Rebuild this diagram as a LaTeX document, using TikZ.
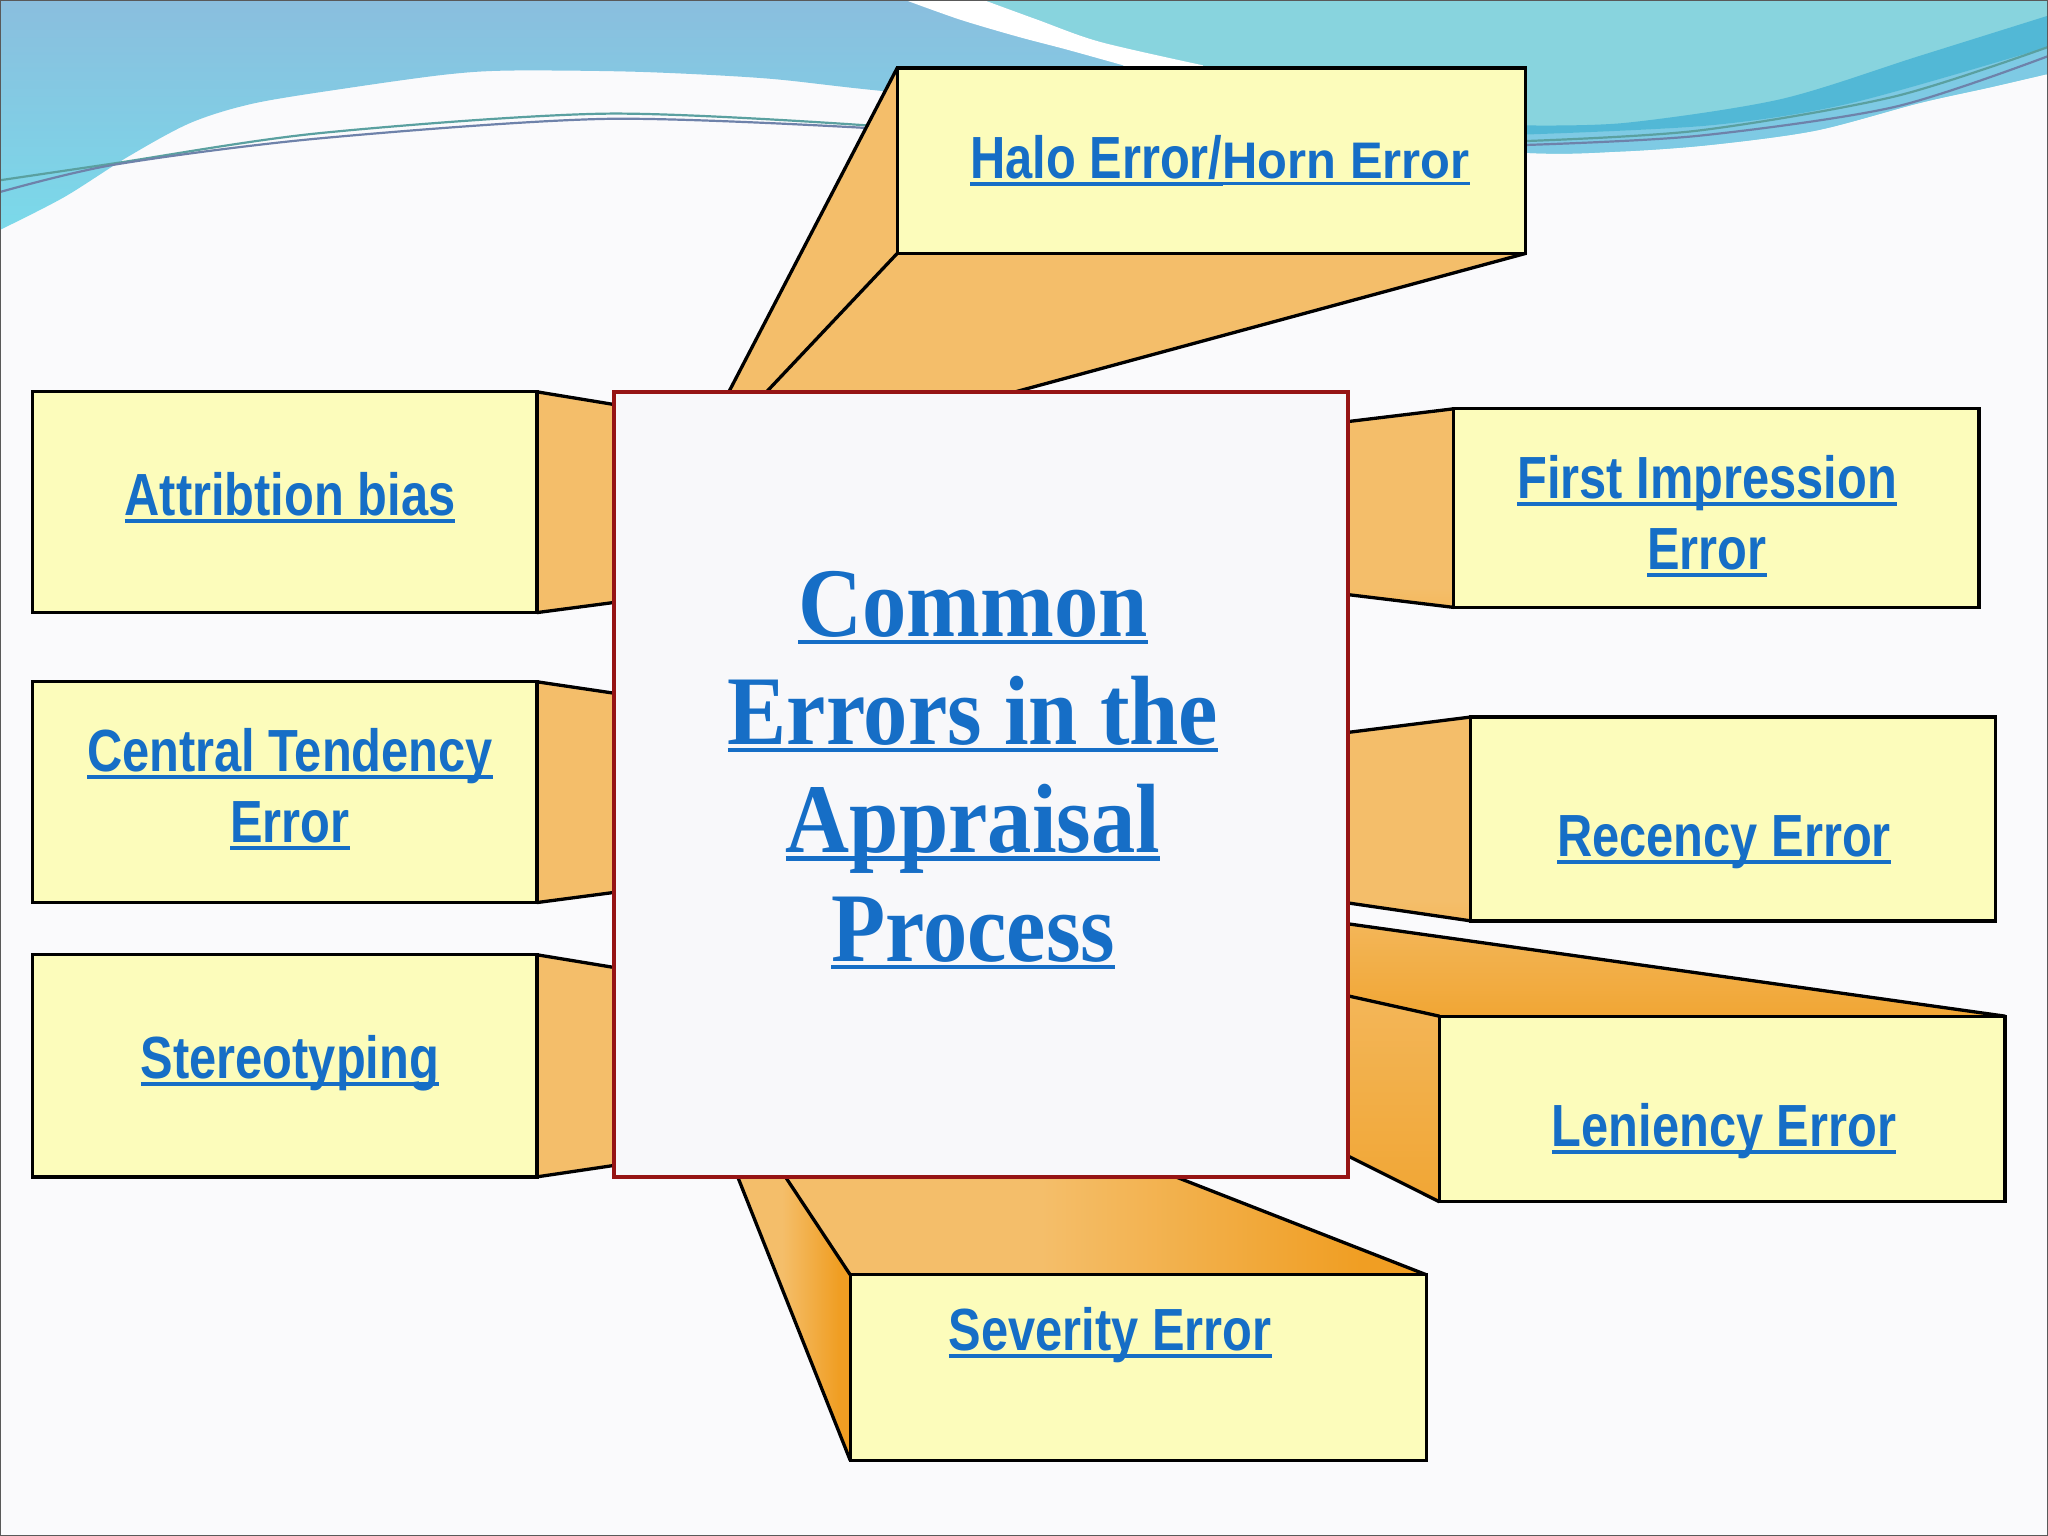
\documentclass[tikz,border=0pt]{standalone}
\usepackage{fontspec}
\setmainfont{Liberation Sans}
\newfontfamily\sidefont[FakeStretch=0.82]{Liberation Sans}
\newfontfamily\hornfont[FakeStretch=0.95]{Liberation Sans}
\newfontfamily\ctrfont[FakeStretch=0.9]{Liberation Serif}
\definecolor{boxfill}{RGB}{252,252,187}
\definecolor{prismc}{RGB}{244,190,106}
\definecolor{prismdark}{RGB}{240,158,35}
\definecolor{txtblue}{RGB}{22,110,198}
\definecolor{ctrfill}{RGB}{248,248,250}
\definecolor{ctrborder}{RGB}{150,20,20}
\definecolor{bgc}{RGB}{250,250,252}
\definecolor{skyb}{RGB}{138,190,222}
\definecolor{cyanb}{RGB}{122,218,234}
\definecolor{turq}{RGB}{136,212,222}
\definecolor{midb}{RGB}{126,202,228}
\definecolor{deepb}{RGB}{82,184,214}
\definecolor{lineA}{RGB}{90,160,160}
\definecolor{lineB}{RGB}{110,130,170}
\pgfdeclarelayer{bglayer}
\pgfdeclarelayer{prismlayer}
\pgfsetlayers{bglayer,prismlayer,main}
\pgfdeclareverticalshading{prismv}{100bp}{color(0bp)=(prismdark); color(30bp)=(prismc); color(100bp)=(prismc)}
\pgfdeclareverticalshading{prismvv}{100bp}{color(0bp)=(prismdark); color(100bp)=(prismc)}
\pgfdeclarehorizontalshading{prismh}{100bp}{color(0bp)=(prismc); color(45bp)=(prismc); color(70bp)=(prismdark); color(100bp)=(prismdark)}
\newcommand\ulns[1]{\setbox0=\hbox{#1}\rlap{\rule[-0.12em]{\wd0}{0.065em}}\box0}
\newcommand\ulnc[1]{\setbox0=\hbox{#1}\rlap{\rule[-0.08em]{\wd0}{0.045em}}\box0}
\tikzset{
  errbox/.style={draw=black, line width=0.9pt, fill=boxfill, inner sep=0pt, outer sep=0pt},
  edge/.style={draw=black, line width=0.9pt, line cap=round},
  sidelbl/.style={text=txtblue, font=\sidefont\bfseries\fontsize{16.2}{19.5}\selectfont, anchor=base, inner sep=0pt},
  ctrlbl/.style={text=txtblue, font=\ctrfont\bfseries\fontsize{26.8}{29.8}\selectfont, anchor=base, inner sep=0pt},
  wave/.style={line width=0.6pt}
}
\begin{document}
\begin{tikzpicture}[x=0.0125cm, y=-0.0125cm]
\useasboundingbox (0,0) rectangle (1568,1176);
% ---------------- background
\begin{pgfonlayer}{bglayer}
\fill[bgc] (0,0) rectangle (1568,1176);
\begin{scope}
\clip plot[smooth] coordinates {(1566,57) (1523,67) (1469,79) (1390,100) (1309,111) (1240,116) (1168,117) (1000,105) (860,88) (669,69) (586,60) (489,55) (391,54) (342,57) (269,67) (195,79) (146,94) (98,120) (49,151) (0,176)} -- (0,176) -- (0,0) -- (1568,0) -- (1568,57) -- cycle;
\shade[top color=skyb, bottom color=cyanb] (0,0) rectangle (1000,180);
\fill[turq] plot[smooth] coordinates {(753,0) (794,15) (842,32) (921,50)} -- (940,200) -- (1568,200) -- (1568,0) -- cycle;
\fill[midb] plot[smooth] coordinates {(1168,103) (1309,96) (1417,79) (1568,36)} -- (1568,200) -- (1168,200) -- cycle;
\fill[deepb] plot[smooth] coordinates {(1168,96) (1245,94) (1363,76) (1469,43) (1568,12)} -- (1568,36) -- plot[smooth] coordinates {(1568,36) (1417,79) (1309,96) (1168,103)} -- cycle;
\fill[white] plot[smooth] coordinates {(693,0) (735,15) (779,28) (817,38) (860,50)} -- (860,60) -- (921,60) -- plot[smooth] coordinates {(921,50) (842,32) (794,15) (753,0)} -- cycle;
\end{scope}
\draw[wave, lineA] plot[smooth] coordinates {(0,138) (88,125) (244,102) (464,87) (664,96)};
\draw[wave, lineB] plot[smooth] coordinates {(0,147) (88,126) (244,106) (464,91) (664,98)};
\draw[wave, lineA] plot[smooth] coordinates {(1168,108) (1300,100) (1450,74) (1568,36)};
\draw[wave, lineB] plot[smooth] coordinates {(1168,111) (1300,104) (1450,82) (1568,43)};
\end{pgfonlayer}
% ---------------- boxes
\node[errbox, minimum width=4.825cm, minimum height=2.1125cm] (attr) at (218,384.5) {};
\node[errbox, minimum width=4.825cm, minimum height=2.1125cm] (cent) at (218,606.5) {};
\node[errbox, minimum width=4.825cm, minimum height=2.125cm] (stereo) at (218,816) {};
\node[errbox, minimum width=6.0125cm, minimum height=1.775cm] (halo) at (927.5,123) {};
\node[errbox, minimum width=5.025cm, minimum height=1.9cm] (first) at (1314,389) {};
\node[errbox, minimum width=5.025cm, minimum height=1.95cm] (rec) at (1327,627) {};
\node[errbox, minimum width=5.4125cm, minimum height=1.775cm] (len) at (1318.5,849) {};
\node[errbox, minimum width=5.5125cm, minimum height=1.775cm] (sev) at (871.5,1047) {};
% ---------------- prisms
\begin{pgfonlayer}{prismlayer}
% halo
\fill[prismc] (halo.north west) -- (halo.south west) -- (585,302) -- (557,302) -- cycle;
\fill[prismc] (halo.south west) -- (halo.south east) -- (770,302) -- (585,302) -- cycle;
\draw[edge] (halo.north west) -- (557,302);
\draw[edge] (halo.south west) -- (585,302);
\draw[edge] (halo.south east) -- (770,302);
% left prisms
\fill[prismc] (attr.north east) -- (472,310) -- (472,461) -- (attr.south east) -- cycle;
\draw[edge] (attr.north east) -- (472,310);
\draw[edge] (attr.south east) -- (472,461);
\fill[prismc] (cent.north east) -- (472,531) -- (472,683) -- (cent.south east) -- cycle;
\draw[edge] (cent.north east) -- (472,531);
\draw[edge] (cent.south east) -- (472,683);
\fill[prismc] (stereo.north east) -- (472,741) -- (472,892) -- (stereo.south east) -- cycle;
\draw[edge] (stereo.north east) -- (472,741);
\draw[edge] (stereo.south east) -- (472,892);
% right prisms
\shade[shading=prismv] (1030,323) -- (first.north west) -- (first.south west) -- (1030,455) -- cycle;
\draw[edge] (1030,323) -- (first.north west);
\draw[edge] (1030,455) -- (first.south west);
\shade[shading=prismv] (1030,561) -- (rec.north west) -- (rec.south west) -- (1030,691) -- cycle;
\draw[edge] (1030,561) -- (rec.north west);
\draw[edge] (1030,691) -- (rec.south west);
% leniency
\shade[shading=prismvv] (1030,707) -- (len.north east) -- (len.north west) -- (1030,762) -- cycle;
\shade[shading=prismvv] (1030,762) -- (len.north west) -- (len.south west) -- (1030,884) -- cycle;
\draw[edge] (1030,707) -- (len.north east);
\draw[edge] (1030,762) -- (len.north west);
\draw[edge] (1030,884) -- (len.south west);
% severity
\shade[shading=prismh] (564,899) -- (600,899) -- (sev.north west) -- (sev.south west) -- cycle;
\shade[shading=prismh] (600,899) -- (895,899) -- (sev.north east) -- (sev.north west) -- cycle;
\draw[edge] (564,899) -- (sev.south west);
\draw[edge] (600,899) -- (sev.north west);
\draw[edge] (895,899) -- (sev.north east);
\end{pgfonlayer}
% ---------------- center box
\node[draw=ctrborder, line width=1.1pt, fill=ctrfill, minimum width=7.025cm, minimum height=7.5125cm, inner sep=0pt, outer sep=0pt] (ctr) at (751,600.5) {};
\node[ctrlbl] (t1) at (745,487) {\ulnc{Common}};
\node[ctrlbl] (t2) at (745,570) {\ulnc{Errors in the}};
\node[ctrlbl] (t3) at (745,653) {\ulnc{Appraisal}};
\node[ctrlbl] (t4) at (745,736) {\ulnc{Process}};
% ---------------- labels
\node[sidelbl] (la) at (222,395) {\ulns{Attribtion bias}};
\node[sidelbl] (lc1) at (222,591) {\ulns{Central Tendency}};
\node[sidelbl] (lc2) at (222,645) {\ulns{Error}};
\node[sidelbl] (ls) at (222,826) {\ulns{Stereotyping}};
\node[sidelbl] (lf1) at (1307,382) {\ulns{First Impression}};
\node[sidelbl] (lf2) at (1307,436) {\ulns{Error}};
\node[sidelbl] (lr) at (1320,656) {\ulns{Recency Error}};
\node[sidelbl] (ll) at (1320,878) {\ulns{Leniency Error}};
\node[sidelbl] (lsv) at (850,1034) {\ulns{Severity Error}};
\node[sidelbl] (lh) at (934,137) {\ulns{Halo Error/}{\hornfont\bfseries\fontsize{14}{16}\selectfont\ulns{Horn Error}}};
% frame
\draw[black!65, line width=0.7pt] (0,0) rectangle (1568,1176);
\end{tikzpicture}
\end{document}
